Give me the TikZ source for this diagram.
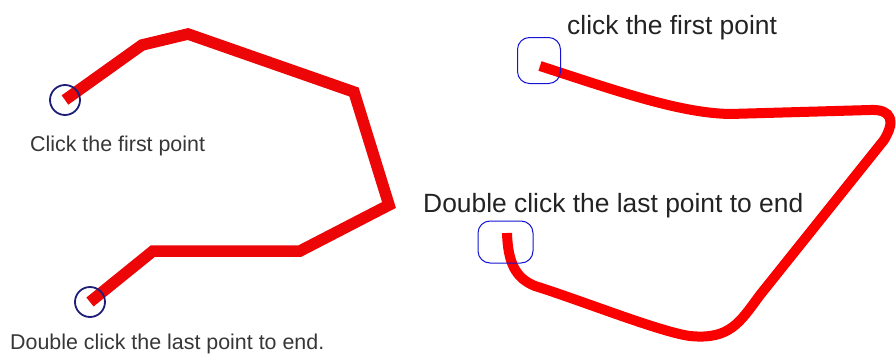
\documentclass[tikz,border=0pt]{standalone}
\usepackage{fontspec}
\setmainfont{Liberation Sans}
\definecolor{polyred}{RGB}{236,6,8}
\definecolor{curvered}{RGB}{252,0,0}
\definecolor{navy}{RGB}{30,30,120}
\definecolor{boxblue}{RGB}{20,20,210}
\definecolor{lefttext}{RGB}{55,55,55}
\definecolor{righttext}{RGB}{35,35,35}
\begin{document}
\begin{tikzpicture}[x=1pt,y=-1pt,
  polyline/.style={draw=polyred,line width=11.5pt,line join=miter,line cap=butt},
  curveline/.style={draw=curvered,line width=10pt,line join=round,line cap=butt},
  ptcircle/.style={circle,draw=navy,line width=1.8pt,minimum size=30pt,inner sep=0pt},
  ptbox/.style={rectangle,rounded corners=12pt,draw=boxblue,line width=1pt,inner sep=0pt},
  ltext/.style={anchor=base west,inner sep=0pt,text=lefttext,font=\fontsize{21.4}{25}\selectfont},
  rtext/.style={anchor=base west,inner sep=0pt,text=righttext,font=\fontsize{26.4}{30}\selectfont}]
\useasboundingbox[fill=white] (0,0) rectangle (896,356);
% left polyline
\coordinate (a0) at (65,100);
\coordinate (a1) at (142,45);
\coordinate (a2) at (188,34);
\coordinate (a3) at (354,92);
\coordinate (a4) at (389,205);
\coordinate (a5) at (300,251);
\coordinate (a6) at (153,251);
\coordinate (a7) at (90,302);
\draw[polyline] (a0) -- (a1) -- (a2) -- (a3) -- (a4) -- (a5) -- (a6) -- (a7);
\node[ptcircle] (c1) at (a0) {};
\node[ptcircle] (c2) at (a7) {};
\node[ltext] (t1) at (30,151) {Click the first point};
\node[ltext] (t2) at (10,349) {Double click the last point to end.};
% right curve
\coordinate (b0) at (540,66);
\coordinate (b4) at (507,233);
\draw[curveline] (b0) .. controls (620,92) and (680,113) .. (730,114)
  -- (870,110) .. controls (893,109) and (895,122) .. (884,140)
  -- (760,295) .. controls (740,322) and (730,340) .. (690,336)
  .. controls (660,332) and (580,300) .. (535,286)
  .. controls (515,278) and (508,262) .. (b4);
\node[ptbox,minimum width=43pt,minimum height=46pt] (r1) at (539,60.5) {};
\node[ptbox,minimum width=55pt,minimum height=42pt] (r2) at (505.5,242) {};
\node[rtext] (t3) at (567,34) {click the first point};
\node[rtext] (t4) at (423,212) {Double click the last point to end};
\end{tikzpicture}
\end{document}
